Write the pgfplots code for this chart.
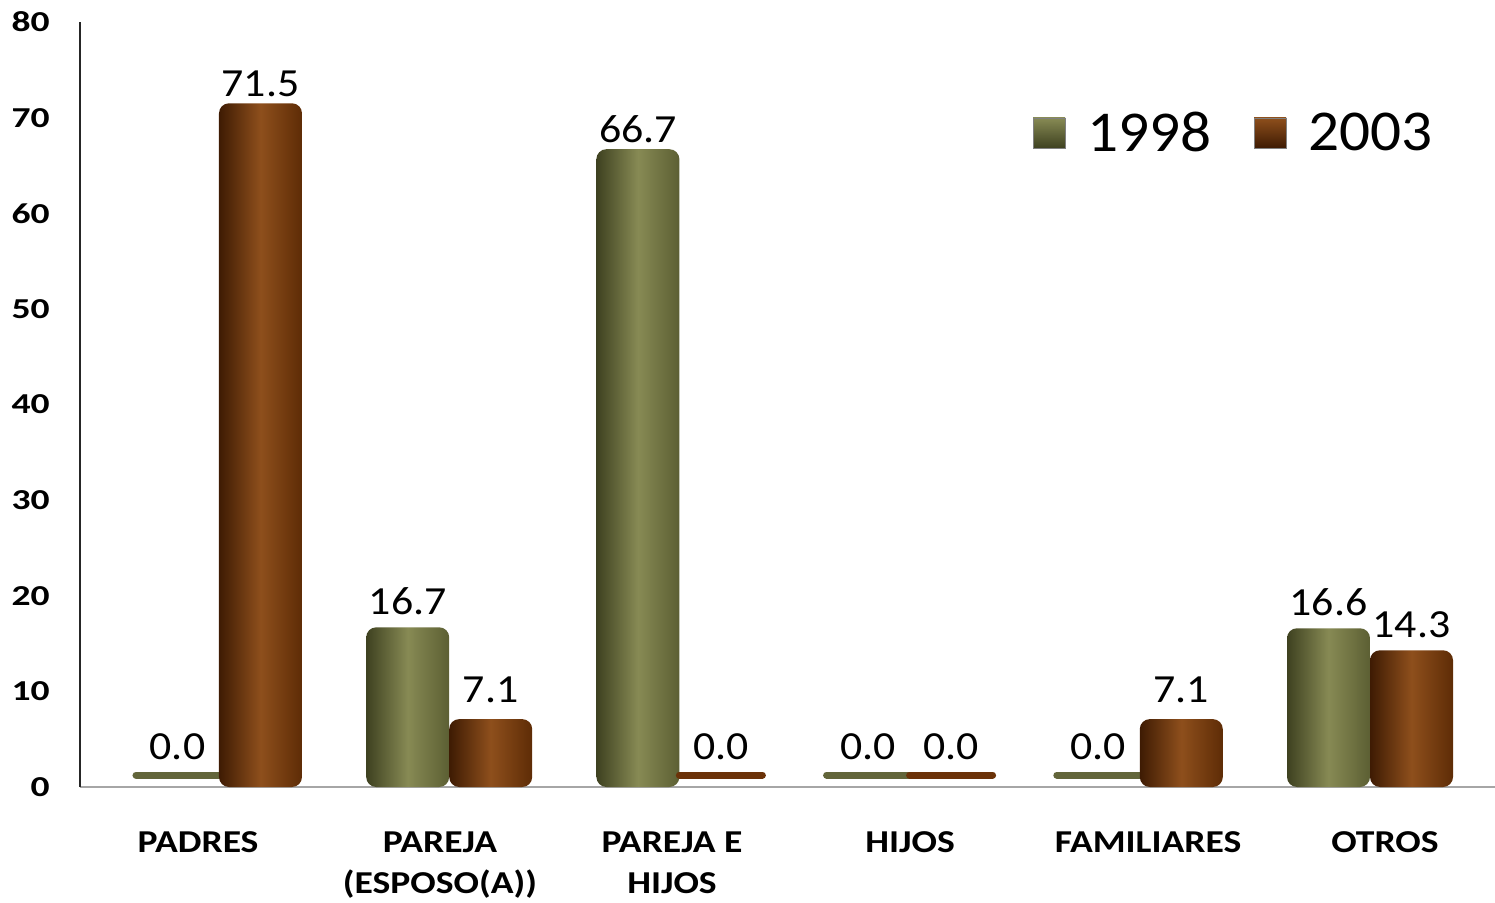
\documentclass[border=0pt]{standalone}
\usepackage{fontspec}
\setmainfont{Carlito}
\newfontfamily\tickfont[FakeStretch=1.3]{Carlito}
\newfontfamily\xlabfont[FakeStretch=1.18]{Carlito}
\newfontfamily\datafont[FakeStretch=1.1]{Carlito}
\newfontfamily\legfont[FakeStretch=1.06]{Carlito}
\usepackage{pgfplots}
\pgfplotsset{compat=1.18}
\definecolor{olD}{HTML}{3E4120}
\definecolor{olL}{HTML}{878A54}
\definecolor{olR}{HTML}{5C5F33}
\definecolor{olM}{HTML}{62653A}
\definecolor{brD}{HTML}{3E1B03}
\definecolor{brL}{HTML}{8E4F1C}
\definecolor{brR}{HTML}{5E2C06}
\definecolor{brM}{HTML}{6B3208}
\definecolor{axgray}{HTML}{A6A6A6}
\pgfplotsset{
  b98/.style={bar shift=-20.75bp, draw=none, left color=olD, right color=olR, middle color=olL, rounded corners=5bp, forget plot,
    every node near coord/.append style={yshift=#1}},
  b03/.style={bar shift=20.75bp, draw=none, left color=brD, right color=brR, middle color=brL, rounded corners=5bp, forget plot,
    every node near coord/.append style={yshift=#1}},
  z98/.style={bar shift=-20.75bp, draw=olM, fill=olM, line width=3.5bp, line join=round, yshift=6bp, forget plot,
    every node near coord/.append style={yshift=0bp}},
  z03/.style={bar shift=20.75bp, draw=brM, fill=brM, line width=3.5bp, line join=round, yshift=6bp, forget plot,
    every node near coord/.append style={yshift=0bp}},
}
\begin{document}
\begin{tikzpicture}
\begin{axis}[
  scale only axis, width=707.5bp, height=382.5bp,
  at={(0,0)}, anchor=south west,
  xmin=-0.6038, xmax=5.543, ymin=0, ymax=80,
  ytick={0,10,...,80},
  xtick={-0.091,0.960,1.968,3.002,4.036,5.065},
  xticklabels={PADRES, {PAREJA\\(ESPOSO(A))}, {PAREJA E\\HIJOS}, HIJOS, FAMILIARES, OTROS},
  axis lines=left, axis line style={-},
  x axis line style={draw=axgray, line width=1bp},
  y axis line style={draw=black!85, line width=0.8bp},
  major tick length=0pt,
  ybar=0pt, bar width=41.5bp,
  yticklabel style={font=\fontsize{14.5}{15}\tickfont\bfseries, anchor=east, inner sep=0pt, xshift=-15bp},
  xticklabel style={font=\fontsize{16}{21}\xlabfont\bfseries, align=center, anchor=north, inner sep=0pt, yshift=-22bp},
  /pgf/number format/assume math mode=true,
  nodes near coords={\pgfmathprintnumber[fixed,fixed zerofill,precision=1]{\pgfplotspointmeta}},
  every node near coord/.append style={font=\fontsize{20}{20}\datafont, color=black, anchor=south, inner sep=0pt, yshift=6bp},
  legend style={at={(0.673,0.855)}, anchor=west, draw=none, fill=none, inner sep=0pt,
    font=\fontsize{29}{29}\legfont, nodes={inner sep=0pt},
    /tikz/every odd column/.append style={column sep=11bp},
    /tikz/every even column/.append style={column sep=21bp}},
  legend columns=2,
  clip=false,
]
% 1998
\addplot[z98] coordinates {(0,0)};
\addplot[b98=0bp] coordinates {(1,16.7)};
\addplot[b98=-3bp] coordinates {(2,66.7)};
\addplot[z98] coordinates {(3,0)};
\addplot[z98] coordinates {(4,0)};
\addplot[b98=0bp] coordinates {(5,16.6)};
% 2003
\addplot[b03=-3bp] coordinates {(0,71.5)};
\addplot[b03=2bp] coordinates {(1,7.1)};
\addplot[z03] coordinates {(2,0)};
\addplot[z03] coordinates {(3,0)};
\addplot[b03=2bp] coordinates {(4,7.1)};
\addplot[b03=0bp] coordinates {(5,14.3)};
\addlegendimage{legend image code/.code={\shade[top color=olL, bottom color=olD, draw=gray, sharp corners] (0bp,-7.5bp) rectangle (16bp,7.5bp);}}
\addlegendimage{legend image code/.code={\shade[top color=brL, bottom color=brD, draw=gray, sharp corners] (0bp,-7.5bp) rectangle (16bp,7.5bp);}}
\legend{1998,2003}
\end{axis}
\pgfresetboundingbox
\path[use as bounding box] (-40bp,-58bp) rectangle (707.5bp,393.5bp);
\end{tikzpicture}
\end{document}
